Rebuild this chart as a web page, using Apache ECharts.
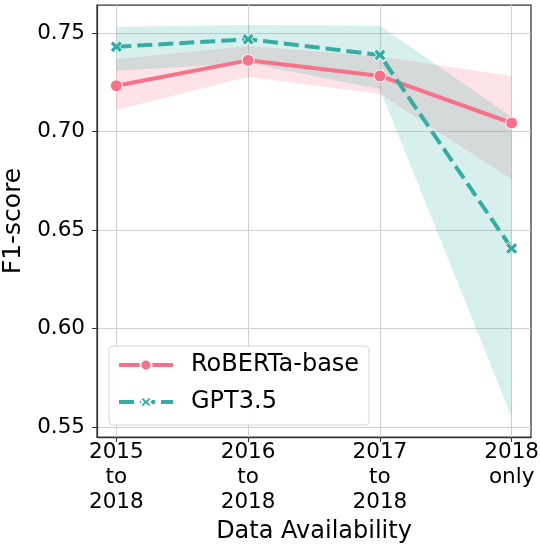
<!DOCTYPE html>
<html lang="en">
<head>
    <meta charset="UTF-8">
    <title>F1-score by data availability</title>
</head>
<body style="margin:0">
<div id="main" style="width:540px;height:548px;"></div>
</body>
<script src="https://cdn.jsdelivr.net/npm/echarts@6.0.0/dist/echarts.min.js"></script>
<script>
    // categories along the x axis (positions 0..3)
    var categories = ['2015\nto\n2018', '2016\nto\n2018', '2017\nto\n2018', '2018\nonly'];
    var yTicks = [0.55, 0.60, 0.65, 0.70, 0.75];

    // RoBERTa-base mean and confidence band
    var robertaMean = [0.7232, 0.7361, 0.7282, 0.7043];
    var robertaLow = [0.7109, 0.7278, 0.7190, 0.6757];
    var robertaHigh = [0.7366, 0.7434, 0.7380, 0.7281];

    // GPT3.5 mean and confidence band
    var gptMean = [0.7430, 0.7468, 0.7388, 0.6406];
    var gptLow = [0.7308, 0.7348, 0.7214, 0.5550];
    var gptHigh = [0.7532, 0.7541, 0.7537, 0.7075];

    var pink = '#f77189';
    var teal = '#36ada4';
    var font = 'DejaVu Sans';

    function pairs(vals) {
        return vals.map(function (v, i) { return [i, v]; });
    }

    // band polygon drawn once through the axis scales
    function band(name, low, high, color) {
        return {
            name: name,
            type: 'custom',
            z: 1,
            silent: true,
            data: low.map(function (v, i) { return [i, v, high[i]]; }),
            renderItem: function (params, api) {
                if (params.dataIndex !== 0) return;
                var pts = [];
                for (var i = 0; i < high.length; i++) pts.push(api.coord([i, high[i]]));
                for (var j = low.length - 1; j >= 0; j--) pts.push(api.coord([j, low[j]]));
                return {
                    type: 'polygon',
                    shape: {points: pts},
                    style: {fill: color}
                };
            }
        };
    }

    var myChart = echarts.init(document.getElementById('main'));
    var option = {
        animation: false,
        textStyle: {fontFamily: font},
        grid: {
            left: 97, right: 9, top: 5, bottom: 111,
            outerBoundsMode: 'none',
            containLabel: false,
            show: true, borderColor: '#333', borderWidth: 1.25,
            backgroundColor: 'transparent'
        },
        legend: {
            orient: 'vertical',
            left: 109,
            top: 346,
            data: ['RoBERTa-base', 'GPT3.5'],
            itemWidth: 54,
            itemHeight: 14,
            itemGap: 13,
            padding: [7, 10, 11, 8],
            backgroundColor: 'rgba(255,255,255,0.9)',
            borderColor: '#d6d6d6',
            borderWidth: 1,
            borderRadius: 4,
            lineStyle: {width: 4},
            textStyle: {fontSize: 24, color: '#000', fontFamily: font, padding: [0, 0, 0, 13]}
        },
        xAxis: {
            type: 'value',
            min: -0.147,
            max: 3.147,
            name: 'Data Availability',
            nameLocation: 'middle',
            nameGap: 83,
            nameTextStyle: {fontSize: 24, color: '#000', fontFamily: font},
            axisLine: {show: true, onZero: false, lineStyle: {color: '#333', width: 1.25}},
            axisTick: {show: true, length: 5, customValues: [0, 1, 2, 3], lineStyle: {color: '#333'}},
            axisLabel: {
                customValues: [0, 1, 2, 3],
                fontSize: 21.5, lineHeight: 25, color: '#000', margin: 3,
                formatter: function (v) { return categories[Math.round(v)]; }
            },
            splitLine: {show: true, lineStyle: {color: '#d0d0d0', width: 1}}
        },
        yAxis: {
            type: 'value',
            min: 0.5449,
            max: 0.7642,
            name: 'F1-score',
            nameLocation: 'middle',
            nameGap: 64,
            nameTextStyle: {fontSize: 25, color: '#000', fontFamily: font},
            axisLine: {show: true, onZero: false, lineStyle: {color: '#333', width: 1.25}},
            axisTick: {show: true, length: 5, customValues: yTicks, lineStyle: {color: '#333'}},
            axisLabel: {
                customValues: yTicks,
                fontSize: 21.5, color: '#000', margin: 12,
                formatter: function (v) { return v.toFixed(2); }
            },
            splitLine: {show: true, lineStyle: {color: '#d0d0d0', width: 1}}
        },
        series: [
            band('robertaBand', robertaLow, robertaHigh, 'rgba(247,113,137,0.2)'),
            band('gptBand', gptLow, gptHigh, 'rgba(54,173,164,0.2)'),
            {
                name: 'RoBERTa-base',
                type: 'line',
                z: 3,
                data: pairs(robertaMean),
                symbol: 'circle',
                symbolSize: 12,
                lineStyle: {color: pink, width: 4},
                itemStyle: {color: pink, borderColor: '#fff', borderWidth: 1}
            },
            {
                name: 'GPT3.5',
                type: 'line',
                z: 4,
                data: pairs(gptMean),
                symbol: 'path://M1,0 L5,3.2 L9,0 L12,3 L8.8,6 L12,9 L9,12 L5,8.8 L1,12 L-2,9 L1.2,6 L-2,3 Z',
                symbolSize: 12,
                lineStyle: {color: teal, width: 4, type: [15, 6]},
                itemStyle: {color: teal, borderColor: '#fff', borderWidth: 1}
            }
        ]
    };
    myChart.setOption(option);
</script>
</html>
